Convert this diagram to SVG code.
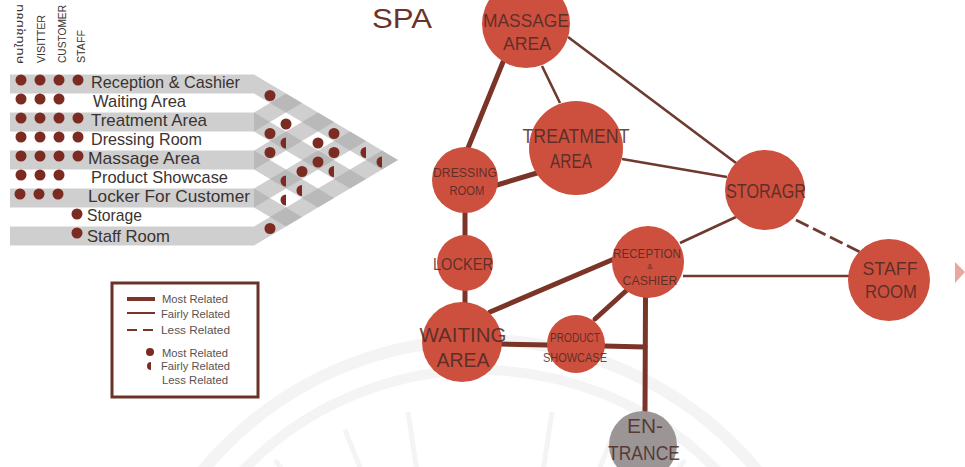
<svg xmlns="http://www.w3.org/2000/svg" width="965" height="467" viewBox="0 0 965 467">
<defs>
<style>
.band{fill:#a8a8a8;fill-opacity:0.55}
.dot{fill:#7b2b22}
.lbl{font-family:"Liberation Sans",Arial,sans-serif;font-size:17px;fill:#3b3330}
.hdr{font-family:"Liberation Sans","Noto Sans Thai","Noto Sans",sans-serif;font-size:10px;fill:#3b3330}
.leg{font-family:"Liberation Sans",Arial,sans-serif;font-size:11.5px;fill:#5a5250}
.node{fill:#cd4f3e}
.ent{fill:#9b9595}
.nt{font-family:"Liberation Sans",Arial,sans-serif;fill:#4a2a25;text-anchor:middle;fill-opacity:0.85}
.thick{stroke:#7a3528;stroke-width:5;fill:none;stroke-linecap:round}
.thin{stroke:#6e3a30;stroke-width:2.6;fill:none}
.dash{stroke:#6e3a30;stroke-width:2.6;fill:none;stroke-dasharray:14 5}
.wm{fill:none;stroke:#ebebeb;stroke-opacity:0.55}
</style>
</defs>
<rect width="965" height="467" fill="#ffffff"/>

<!-- faint watermark -->
<g id="watermark">
<circle class="wm" cx="480" cy="700" r="360" stroke-width="12"/>
<circle class="wm" cx="480" cy="700" r="330" stroke-width="10"/>
<g class="wm" stroke-width="5">
<line x1="330" y1="530" x2="275" y2="460"/>
<line x1="375" y1="505" x2="345" y2="430"/>
<line x1="420" y1="492" x2="408" y2="412"/>
<line x1="540" y1="492" x2="552" y2="412"/>
<line x1="585" y1="505" x2="615" y2="430"/>
<line x1="630" y1="530" x2="685" y2="460"/>
</g>
</g>

<!-- title -->
<text x="372" y="28" font-family="'Liberation Sans',Arial,sans-serif" font-size="28" fill="#6b3328" textLength="60" lengthAdjust="spacingAndGlyphs">SPA</text>

<!-- relationship matrix -->
<g id="matrix">
<g id="bars">
<rect class="band" x="10" y="74.5" width="244" height="19"/>
<rect class="band" x="10" y="112.5" width="244" height="19"/>
<rect class="band" x="10" y="150.5" width="244" height="19"/>
<rect class="band" x="10" y="188.5" width="244" height="19"/>
<rect class="band" x="10" y="226.5" width="244" height="19"/>
<polygon class="band" points="254,74.5 398,160 382,169.5 254,93.5"/>
<polygon class="band" points="254,112.5 366,179 350,188.5 254,131.5"/>
<polygon class="band" points="254,150.5 334,198 318,207.5 254,169.5"/>
<polygon class="band" points="254,188.5 302,217 286,226.5 254,207.5"/>
<polygon class="band" points="254,131.5 302,103 286,93.5 254,112.5"/>
<polygon class="band" points="254,169.5 334,122 318,112.5 254,150.5"/>
<polygon class="band" points="254,207.5 366,141 350,131.5 254,188.5"/>
<polygon class="band" points="254,245.5 398,160 382,150.5 254,226.5"/>
</g>
<g id="headers" class="hdr">
<text transform="translate(23,64) rotate(-90)" textLength="60" lengthAdjust="spacingAndGlyphs">คนในชุมชน</text>
<text transform="translate(45,63) rotate(-90)" textLength="48" lengthAdjust="spacingAndGlyphs">VISITTER</text>
<text transform="translate(66,63) rotate(-90)" textLength="58" lengthAdjust="spacingAndGlyphs">CUSTOMER</text>
<text transform="translate(85,63) rotate(-90)" textLength="33" lengthAdjust="spacingAndGlyphs">STAFF</text>
</g>
<g id="labels" class="lbl">
<text x="91" y="88" textLength="149" lengthAdjust="spacingAndGlyphs">Reception &amp; Cashier</text>
<text x="93" y="107" textLength="93" lengthAdjust="spacingAndGlyphs">Waiting Area</text>
<text x="91" y="126" textLength="116" lengthAdjust="spacingAndGlyphs">Treatment Area</text>
<text x="91" y="145" textLength="111" lengthAdjust="spacingAndGlyphs">Dressing Room</text>
<text x="88" y="164" textLength="112" lengthAdjust="spacingAndGlyphs">Massage Area</text>
<text x="91" y="183" textLength="137" lengthAdjust="spacingAndGlyphs">Product Showcase</text>
<text x="88" y="202" textLength="162" lengthAdjust="spacingAndGlyphs">Locker For Customer</text>
<text x="87" y="221" textLength="55" lengthAdjust="spacingAndGlyphs">Storage</text>
<text x="87" y="242" textLength="83" lengthAdjust="spacingAndGlyphs">Staff Room</text>
</g>
<g id="userdots" class="dot">
<circle cx="21" cy="80" r="5.5"/><circle cx="40" cy="80" r="5.5"/><circle cx="59" cy="80" r="5.5"/><circle cx="78" cy="80" r="5.5"/>
<circle cx="21" cy="99" r="5.5"/><circle cx="40" cy="99" r="5.5"/><circle cx="59" cy="99" r="5.5"/>
<circle cx="21" cy="118" r="5.5"/><circle cx="40" cy="118" r="5.5"/><circle cx="59" cy="118" r="5.5"/><circle cx="78" cy="118" r="5.5"/>
<circle cx="21" cy="137" r="5.5"/><circle cx="40" cy="137" r="5.5"/><circle cx="59" cy="137" r="5.5"/><circle cx="78" cy="137" r="5.5"/>
<circle cx="21" cy="156" r="5.5"/><circle cx="40" cy="156" r="5.5"/><circle cx="59" cy="156" r="5.5"/><circle cx="78" cy="156" r="5.5"/>
<circle cx="21" cy="175" r="5.5"/><circle cx="40" cy="175" r="5.5"/><circle cx="59" cy="175" r="5.5"/>
<circle cx="20" cy="194" r="5.5"/><circle cx="39" cy="194" r="5.5"/><circle cx="58" cy="194" r="5.5"/>
<circle cx="77" cy="214" r="5.5"/>
<circle cx="77" cy="233" r="5.5"/>
</g>
<g id="pairdots" class="dot">
<circle cx="270" cy="95.5" r="5.5"/>
<circle cx="286" cy="124" r="5.5"/>
<circle cx="270" cy="133.5" r="5.5"/>
<circle cx="334" cy="133.5" r="5.5"/>
<circle cx="318" cy="143" r="5.5"/>
<circle cx="270" cy="152.5" r="5.5"/>
<circle cx="334" cy="152.5" r="5.5"/>
<circle cx="318" cy="162" r="5.5"/>
<circle cx="302" cy="171.5" r="5.5"/>
<circle cx="270" cy="228.5" r="5.5"/>
<path d="M286,137.5 A5.5,5.5 0 0 0 286,148.5 Z"/>
<path d="M366,147 A5.5,5.5 0 0 0 366,158 Z"/>
<path d="M382,156.5 A5.5,5.5 0 0 0 382,167.5 Z"/>
<path d="M334,166 A5.5,5.5 0 0 0 334,177 Z"/>
<path d="M286,175.5 A5.5,5.5 0 0 0 286,186.5 Z"/>
<path d="M302,185 A5.5,5.5 0 0 0 302,196 Z"/>
<path d="M286,194.5 A5.5,5.5 0 0 0 286,205.5 Z"/>
</g>
</g>

<!-- legend -->
<g id="legend">
<rect x="112" y="283" width="146" height="114" fill="none" stroke="#6b3328" stroke-width="3"/>
<line x1="127" y1="299" x2="155" y2="299" stroke="#7a3528" stroke-width="4"/>
<line x1="127" y1="313" x2="155" y2="313" stroke="#7a3528" stroke-width="2"/>
<line x1="127" y1="330" x2="155" y2="330" stroke="#7a3528" stroke-width="1.8" stroke-dasharray="10 6"/>
<circle class="dot" cx="150" cy="352" r="4"/>
<path class="dot" d="M151,362 A4,4 0 0 0 151,370 Z"/>
<g class="leg">
<text x="162" y="303" textLength="66" lengthAdjust="spacingAndGlyphs">Most Related</text>
<text x="161" y="318" textLength="69" lengthAdjust="spacingAndGlyphs">Fairly Related</text>
<text x="161" y="334" textLength="69" lengthAdjust="spacingAndGlyphs">Less Related</text>
<text x="162" y="357" textLength="66" lengthAdjust="spacingAndGlyphs">Most Related</text>
<text x="161" y="370" textLength="69" lengthAdjust="spacingAndGlyphs">Fairly Related</text>
<text x="162" y="384" textLength="66" lengthAdjust="spacingAndGlyphs">Less Related</text>
</g>
</g>

<!-- connectors -->
<g id="connectors">
<line class="thick" x1="503" y1="62" x2="468" y2="148"/>
<line class="thin" x1="542" y1="66" x2="560" y2="103"/>
<line class="thin" x1="568" y1="37" x2="736" y2="163"/>
<line class="thick" x1="497" y1="185" x2="537" y2="173"/>
<line class="thin" x1="622" y1="159" x2="727" y2="177"/>
<line class="thick" x1="465" y1="212" x2="465" y2="236"/>
<line class="thick" x1="465" y1="290" x2="465" y2="303"/>
<line class="thick" x1="490" y1="312" x2="614" y2="259"/>
<line class="thick" x1="501" y1="344" x2="548" y2="345"/>
<line class="thick" x1="595" y1="319" x2="627" y2="290"/>
<line class="thick" x1="604" y1="346" x2="645" y2="347"/>
<line class="thick" x1="645.5" y1="297" x2="645" y2="411"/>
<line class="thin" x1="680" y1="243" x2="736" y2="217"/>
<line class="thin" x1="683" y1="276" x2="849" y2="276"/>
<line class="dash" x1="796" y1="220" x2="860" y2="252"/>
</g>

<!-- nodes -->
<g id="massage-area">
<circle class="node" cx="526" cy="24" r="44"/>
<text class="nt" x="526" y="27" font-size="19" textLength="86" lengthAdjust="spacingAndGlyphs">MASSAGE</text>
<text class="nt" x="527" y="50" font-size="19" textLength="48" lengthAdjust="spacingAndGlyphs">AREA</text>
</g>
<g id="treatment-area">
<circle class="node" cx="576" cy="148" r="47"/>
<text class="nt" x="576" y="143" font-size="20" textLength="107" lengthAdjust="spacingAndGlyphs">TREATMENT</text>
<text class="nt" x="571" y="168" font-size="20" textLength="42" lengthAdjust="spacingAndGlyphs">AREA</text>
</g>
<g id="dressing-room">
<circle class="node" cx="465" cy="180" r="33"/>
<text class="nt" x="465" y="177" font-size="12" textLength="64" lengthAdjust="spacingAndGlyphs">DRESSING</text>
<text class="nt" x="467" y="195" font-size="12" textLength="35" lengthAdjust="spacingAndGlyphs">ROOM</text>
</g>
<g id="locker">
<circle class="node" cx="465" cy="263" r="28"/>
<text class="nt" x="463" y="270" font-size="17" textLength="60" lengthAdjust="spacingAndGlyphs">LOCKER</text>
</g>
<g id="waiting-area">
<circle class="node" cx="462" cy="342" r="40"/>
<text class="nt" x="463" y="342" font-size="21" textLength="87" lengthAdjust="spacingAndGlyphs">WAITING</text>
<text class="nt" x="463" y="367" font-size="21" textLength="53" lengthAdjust="spacingAndGlyphs">AREA</text>
</g>
<g id="product-showcase">
<circle class="node" cx="576" cy="344" r="29"/>
<text class="nt" x="575" y="342" font-size="12" textLength="50" lengthAdjust="spacingAndGlyphs">PRODUCT</text>
<text class="nt" x="575" y="362" font-size="12" textLength="64" lengthAdjust="spacingAndGlyphs">SHOWCASE</text>
</g>
<g id="reception-cashier">
<circle class="node" cx="648" cy="262" r="36"/>
<text class="nt" x="647" y="258" font-size="13" textLength="68" lengthAdjust="spacingAndGlyphs">RECEPTION</text>
<text class="nt" x="650" y="269" font-size="8">&amp;</text>
<text class="nt" x="650" y="285" font-size="13" textLength="55" lengthAdjust="spacingAndGlyphs">CASHIER</text>
</g>
<g id="storage">
<circle class="node" cx="765" cy="190" r="40"/>
<text class="nt" x="766" y="198" font-size="20" textLength="80" lengthAdjust="spacingAndGlyphs">STORAGR</text>
</g>
<g id="staff-room">
<circle class="node" cx="889" cy="280" r="41"/>
<text class="nt" x="890" y="275" font-size="19" textLength="55" lengthAdjust="spacingAndGlyphs">STAFF</text>
<text class="nt" x="891" y="298" font-size="19" textLength="52" lengthAdjust="spacingAndGlyphs">ROOM</text>
</g>
<g id="entrance">
<circle class="ent" cx="643" cy="445" r="34"/>
<text class="nt" x="645" y="433" font-size="21" textLength="36" lengthAdjust="spacingAndGlyphs">EN-</text>
<text class="nt" x="644" y="460" font-size="21" textLength="72" lengthAdjust="spacingAndGlyphs">TRANCE</text>
</g>

<polygon points="955,262 965,272 955,283" fill="#e8a8a0"/>
</svg>
